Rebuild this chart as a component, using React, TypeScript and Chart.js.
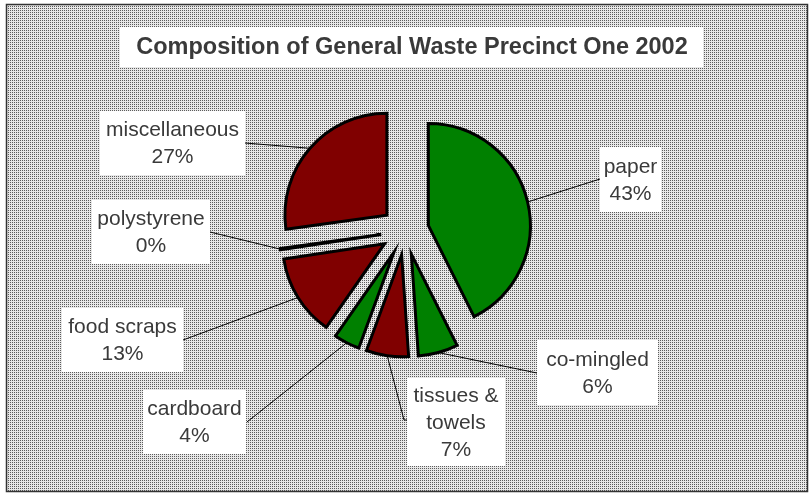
import React, { useEffect, useRef } from "react";
import { Chart, registerables } from "chart.js";

Chart.register(...registerables);

// ---- data ----
const categories = [
  "paper",
  "co-mingled",
  "tissues & towels",
  "cardboard",
  "food scraps",
  "polystyrene",
  "miscellaneous",
];
const shares = [42.6, 6.3, 6.7, 4.1, 12.9, 0.2, 27.2];
const labelLines = [
  ["paper"],
  ["co-mingled"],
  ["tissues &", "towels"],
  ["cardboard"],
  ["food scraps"],
  ["polystyrene"],
  ["miscellaneous"],
];
const titleText = "Composition of General Waste Precinct One 2002";

// ---- styles / layout ----
const GREEN = "#008000";
const MAROON = "#800000";
const sliceColors = [GREEN, GREEN, MAROON, GREEN, MAROON, MAROON, MAROON];
const EXPLODE = 24;
const TEXT_COLOR = "#3a3a3a";

// label box layout: x, y, w, h, anchor point for leader, optional elbow
const labelBoxes = [
  { x: 600, y: 147, w: 61, h: 65, ax: 600, ay: 179 },
  { x: 537, y: 340, w: 121, h: 65, ax: 537, ay: 373 },
  { x: 407, y: 378, w: 98, h: 88, ax: 407, ay: 420, ex: 404, ey: 420 },
  { x: 143, y: 390, w: 103, h: 64, ax: 247, ay: 422 },
  { x: 62, y: 308, w: 121, h: 64, ax: 183, ay: 340 },
  { x: 92, y: 200, w: 118, h: 64, ax: 210, ay: 232 },
  { x: 100, y: 111, w: 145, h: 64, ax: 245, ay: 143 },
];

function makePattern(ctx: CanvasRenderingContext2D) {
  const c = document.createElement("canvas");
  c.width = 2;
  c.height = 2;
  const p = c.getContext("2d")!;
  p.fillStyle = "#e8e8e8";
  p.fillRect(0, 0, 2, 2);
  p.fillStyle = "#5c5c5c";
  p.fillRect(0, 0, 1, 1);
  return ctx.createPattern(c, "repeat");
}

const backgroundPlugin = {
  id: "bgFrame",
  beforeDraw(chart: any) {
    const ctx: CanvasRenderingContext2D = chart.ctx;
    ctx.save();
    ctx.fillStyle = "#ffffff";
    ctx.fillRect(0, 0, chart.width, chart.height);
    const pat = makePattern(ctx);
    if (pat) ctx.fillStyle = pat;
    ctx.fillRect(6, 4, 802, 488);
    ctx.strokeStyle = "#333333";
    ctx.lineWidth = 1.5;
    ctx.strokeRect(6.5, 4.5, 801, 487);
    // title
    ctx.fillStyle = "#ffffff";
    ctx.fillRect(120, 27, 583, 40);
    ctx.fillStyle = TEXT_COLOR;
    ctx.font = "bold 23.5px 'Liberation Sans', Arial, sans-serif";
    ctx.textAlign = "center";
    ctx.textBaseline = "middle";
    ctx.fillText(titleText, 412, 48);
    ctx.restore();
  },
};

const explodePlugin = {
  id: "explode",
  afterDatasetsUpdate(chart: any) {
    const meta = chart.getDatasetMeta(0);
    meta.data.forEach((arc: any) => {
      const mid = (arc.startAngle + arc.endAngle) / 2;
      arc.x += Math.cos(mid) * EXPLODE;
      arc.y += Math.sin(mid) * EXPLODE;
    });
  },
};

const labelPlugin = {
  id: "sliceLabels",
  afterDatasetsDraw(chart: any) {
    const ctx: CanvasRenderingContext2D = chart.ctx;
    const meta = chart.getDatasetMeta(0);
    ctx.save();
    // leaders
    ctx.strokeStyle = "#000000";
    ctx.lineWidth = 1;
    meta.data.forEach((arc: any, i: number) => {
      const b: any = labelBoxes[i];
      const mid = (arc.startAngle + arc.endAngle) / 2;
      const px = arc.x + Math.cos(mid) * arc.outerRadius;
      const py = arc.y + Math.sin(mid) * arc.outerRadius;
      ctx.beginPath();
      ctx.moveTo(px, py);
      if (b.ex !== undefined) ctx.lineTo(b.ex, b.ey);
      ctx.lineTo(b.ax, b.ay);
      ctx.stroke();
    });
    // boxes & text
    ctx.font = "21px 'Liberation Sans', Arial, sans-serif";
    ctx.textAlign = "center";
    ctx.textBaseline = "middle";
    shares.forEach((v, i) => {
      const b = labelBoxes[i];
      ctx.fillStyle = "#ffffff";
      ctx.fillRect(b.x, b.y, b.w, b.h);
      const lines = [...labelLines[i], Math.round(v) + "%"];
      const lh = 27;
      const cy = b.y + b.h / 2;
      const startY = cy - ((lines.length - 1) * lh) / 2;
      ctx.fillStyle = TEXT_COLOR;
      lines.forEach((t, k) => {
        ctx.fillText(t, b.x + b.w / 2, startY + k * lh + 1);
      });
    });
    ctx.restore();
  },
};

export default function App() {
  const ref = useRef<HTMLCanvasElement | null>(null);
  useEffect(() => {
    if (!ref.current) return;
    const chart = new Chart(ref.current, {
      type: "pie",
      data: {
        labels: categories,
        datasets: [
          {
            data: shares,
            backgroundColor: sliceColors,
            borderColor: "#000000",
            borderWidth: 3,
            borderJoinStyle: "miter",
          } as any,
        ],
      },
      options: {
        responsive: false,
        animation: false,
        events: [],
        radius: 102,
        layout: { padding: { left: 100, right: 101, top: 100, bottom: 133 } },
        plugins: {
          legend: { display: false },
          tooltip: { enabled: false },
          title: { display: false },
        },
      } as any,
      plugins: [backgroundPlugin, explodePlugin, labelPlugin],
    });
    return () => chart.destroy();
  }, []);
  return (
    <div style={{ position: "absolute", left: 0, top: 0, width: 811, height: 495 }}>
      <canvas ref={ref} width={811} height={495} style={{ width: 811, height: 495, display: "block" }} />
    </div>
  );
}
